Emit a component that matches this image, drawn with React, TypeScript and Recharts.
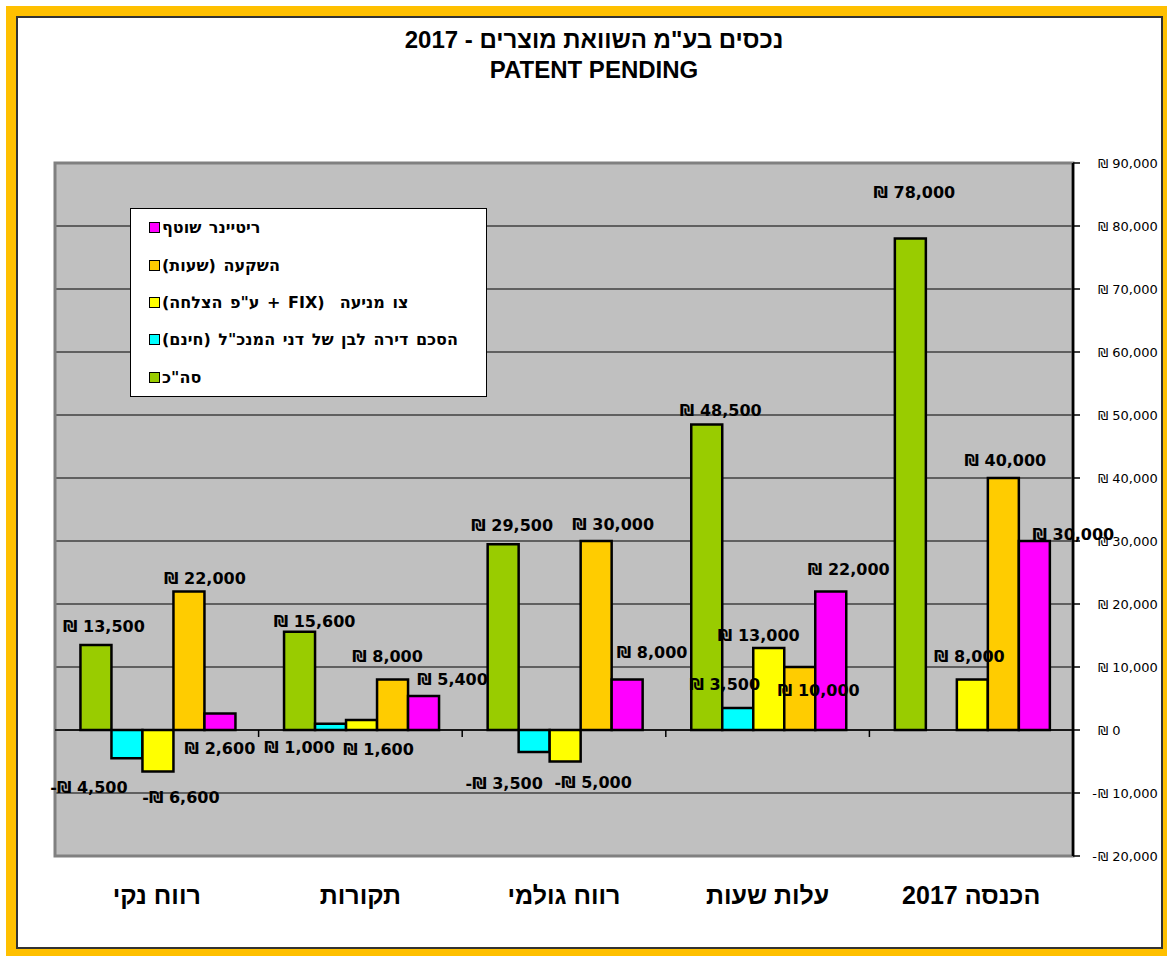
import React from 'react';
import {
  BarChart, Bar, XAxis, YAxis, CartesianGrid, Legend, LabelList,
  ReferenceLine, ReferenceArea,
} from 'recharts';

// ---------- data ----------
const categories = ['רווח נקי', 'תקורות', 'רווח גולמי', 'עלות שעות', 'הכנסה 2017'];
const totalValues = [13500, 15600, 29500, 48500, 78000];
const apartmentValues = [-4500, 1000, -3500, 3500, 0];
const injunctionValues = [-6600, 1600, -5000, 13000, 8000];
const investmentValues = [22000, 8000, 30000, 10000, 40000];
const retainerValues = [2600, 5400, 8000, 22000, 30000];
const yTicks = [-20000, -10000, 0, 10000, 20000, 30000, 40000, 50000, 60000, 70000, 80000, 90000];

const seriesNames = {
  total: 'סה"כ',
  apartment: 'הסכם דירה לבן של דני המנכ"ל (חינם)',
  injunction: 'צו מניעה  (FIX + ע"פ הצלחה)',
  investment: 'השקעה (שעות)',
  retainer: 'ריטיינר שוטף',
};
const legendOrder = ['retainer', 'investment', 'injunction', 'apartment', 'total'];
const titleLine1 = 'נכסים בע"מ השוואת מוצרים - 2017';
const titleLine2 = 'PATENT PENDING';

// ---------- styles ----------
const colors: Record<string, string> = {
  total: '#99CC00',
  apartment: '#00FFFF',
  injunction: '#FFFF00',
  investment: '#FFCC00',
  retainer: '#FF00FF',
};
// label nudges (dx, dy) relative to bar centre / bar end, mimicking the hand-placed labels
const labelNudges: Record<string, number[][]> = {
  total: [[8, -18], [15, -10], [9, -19], [14, -14], [4, -46]],
  apartment: [[-38, 29], [-31, 24], [-30, 31], [-13, -23], [2, 67]],
  injunction: [[23, 26], [17, 30], [28, 21], [-10, -13], [-3, -23]],
  investment: [[16, -13], [-5, -23], [17, -17], [19, 23], [2, -18]],
  retainer: [[0, 35], [29, -16], [25, -27], [18, -22], [39, -7]],
};

const data = categories.map((cat, i) => ({
  cat,
  total: totalValues[i],
  apartment: apartmentValues[i],
  injunction: injunctionValues[i],
  investment: investmentValues[i],
  retainer: retainerValues[i],
}));

const fmt = (v: number) => {
  const s = Math.abs(v).toLocaleString('en-US');
  return v < 0 ? `-\u20AA ${s}` : `\u20AA ${s}`;
};

const makeLabel = (key: string) => (props: any) => {
  const vb = props.viewBox || props;
  const x = vb.x ?? props.x;
  const y = vb.y ?? props.y;
  const w = vb.width ?? props.width;
  const h = vb.height ?? props.height;
  const value = props.value;
  const idx = props.index ?? 0;
  const nudge = labelNudges[key][idx] || [0, 0];
  const cx = x + w / 2 + nudge[0];
  const endY = value >= 0 ? Math.min(y, y + h) : Math.max(y, y + h);
  return (
    <text
      x={cx}
      y={endY + nudge[1]}
      textAnchor="middle"
      dominantBaseline="central"
      fontFamily="'DejaVu Sans', sans-serif"
      fontWeight="bold"
      fontSize={16}
      fill="#000"
    >
      {fmt(value)}
    </text>
  );
};

const YTick = (props: any) => {
  const { x, y, payload } = props;
  const v = payload.value as number;
  const s = `\u20AA ${Math.abs(v).toLocaleString('en-US')}`;
  return (
    <g>
      {v < 0 && (
        <text x={x + 15} y={y} textAnchor="end" dominantBaseline="central"
          fontFamily="'DejaVu Sans', sans-serif" fontSize={13} fill="#000">-</text>
      )}
      <text x={x + 16} y={y} textAnchor="start" dominantBaseline="central"
        fontFamily="'DejaVu Sans', sans-serif" fontSize={13} fill="#000">{s}</text>
    </g>
  );
};

const XTick = (props: any) => {
  const { x, y, payload } = props;
  return (
    <text x={x} y={y + 31} textAnchor="middle" dominantBaseline="central"
      fontFamily="'Liberation Sans', Arial, sans-serif" fontWeight="bold" fontSize={25} fill="#000">
      {payload.value}
    </text>
  );
};

const ZeroAxis = (props: any) => {
  const { x1, x2, y1 } = props;
  const n = categories.length;
  const step = (x2 - x1) / n;
  const ticks = [];
  for (let i = 0; i < n; i++) {
    const tx = x1 + i * step;
    ticks.push(<line key={i} x1={tx} y1={y1} x2={tx} y2={y1 + 7} stroke="#000" strokeWidth={1.5} />);
  }
  return (
    <g>
      <line x1={x1} y1={y1} x2={x2} y2={y1} stroke="#000" strokeWidth={1.5} />
      {ticks}
    </g>
  );
};

const LegendContent = (props: any) => {
  const payload = props.payload || [];
  const items = legendOrder
    .map((k) => payload.find((p: any) => p.dataKey === k))
    .filter(Boolean);
  return (
    <div style={{
      width: '100%', height: '100%', boxSizing: 'border-box', background: '#fff',
      border: '1.5px solid #000', padding: '0 0 0 18px',
      display: 'flex', flexDirection: 'column', justifyContent: 'flex-start',
    }}>
      {items.map((p: any) => (
        <div key={p.dataKey} style={{ display: 'flex', alignItems: 'center', height: 37.5 }}>
          <span style={{
            display: 'inline-block', width: 9, height: 9, background: colors[p.dataKey],
            border: '1.5px solid #000', marginRight: 2, flex: 'none',
          }} />
          <span dir="rtl" style={{
            fontFamily: "'DejaVu Sans', sans-serif", fontWeight: 'bold', fontSize: 16,
            wordSpacing: 2, color: '#000', whiteSpace: 'pre',
          }}>{p.value}</span>
        </div>
      ))}
    </div>
  );
};

export default function App() {
  return (
    <div style={{ position: 'absolute', left: 0, top: 0, width: 1167, height: 956, background: '#fff', overflow: 'hidden' }}>
      <div style={{ position: 'absolute', left: 6, top: 6, width: 1161, height: 950, background: '#FFC000' }} />
      <div style={{
        position: 'absolute', left: 16, top: 16, width: 1147, height: 933, background: '#fff',
        border: '2px solid #333', boxSizing: 'border-box',
      }} />
      <div style={{
        position: 'absolute', left: 294, top: 25, width: 600, textAlign: 'center',
        fontFamily: "'Liberation Sans', Arial, sans-serif", fontWeight: 'bold', fontSize: 24,
        lineHeight: '30px', color: '#000',
      }}>
        <div dir="rtl">{titleLine1}</div>
        <div>{titleLine2}</div>
      </div>
      <div style={{ position: 'absolute', left: 0, top: 0 }}>
        <BarChart
          width={1167}
          height={956}
          data={data}
          margin={{ top: 163, right: 14, bottom: 50, left: 55 }}
          barCategoryGap="12.5%"
          barGap={0}
        >
          <CartesianGrid vertical={false} stroke="#000" strokeWidth={1} fill="#C0C0C0" fillOpacity={1} />
          <XAxis dataKey="cat" axisLine={false} tickLine={false} height={50} tick={<XTick />} interval={0} />
          <YAxis
            orientation="right"
            width={80}
            domain={[-20000, 90000]}
            ticks={yTicks}
            interval={0}
            axisLine={{ stroke: '#000', strokeWidth: 2.5 }}
            tickLine={{ stroke: '#000', strokeWidth: 1.5 }}
            tickSize={7}
            tick={<YTick />}
          />
          <ReferenceArea y1={-20000} y2={90000} fill="none" stroke="#808080" strokeWidth={3} ifOverflow="visible" />
          <ReferenceLine y={0} shape={<ZeroAxis />} ifOverflow="visible" />
          <Legend
            layout="vertical"
            align="center"
            verticalAlign="middle"
            content={<LegendContent />}
            wrapperStyle={{ left: 130, top: 208, width: 357, height: 189 }}
          />
          <Bar dataKey="total" name={seriesNames.total} fill={colors.total} stroke="#000" strokeWidth={2.5} isAnimationActive={false}>
            <LabelList dataKey="total" content={makeLabel('total')} />
          </Bar>
          <Bar dataKey="apartment" name={seriesNames.apartment} fill={colors.apartment} stroke="#000" strokeWidth={2.5} isAnimationActive={false}>
            <LabelList dataKey="apartment" content={makeLabel('apartment')} />
          </Bar>
          <Bar dataKey="injunction" name={seriesNames.injunction} fill={colors.injunction} stroke="#000" strokeWidth={2.5} isAnimationActive={false}>
            <LabelList dataKey="injunction" content={makeLabel('injunction')} />
          </Bar>
          <Bar dataKey="investment" name={seriesNames.investment} fill={colors.investment} stroke="#000" strokeWidth={2.5} isAnimationActive={false}>
            <LabelList dataKey="investment" content={makeLabel('investment')} />
          </Bar>
          <Bar dataKey="retainer" name={seriesNames.retainer} fill={colors.retainer} stroke="#000" strokeWidth={2.5} isAnimationActive={false}>
            <LabelList dataKey="retainer" content={makeLabel('retainer')} />
          </Bar>
        </BarChart>
      </div>
    </div>
  );
}
